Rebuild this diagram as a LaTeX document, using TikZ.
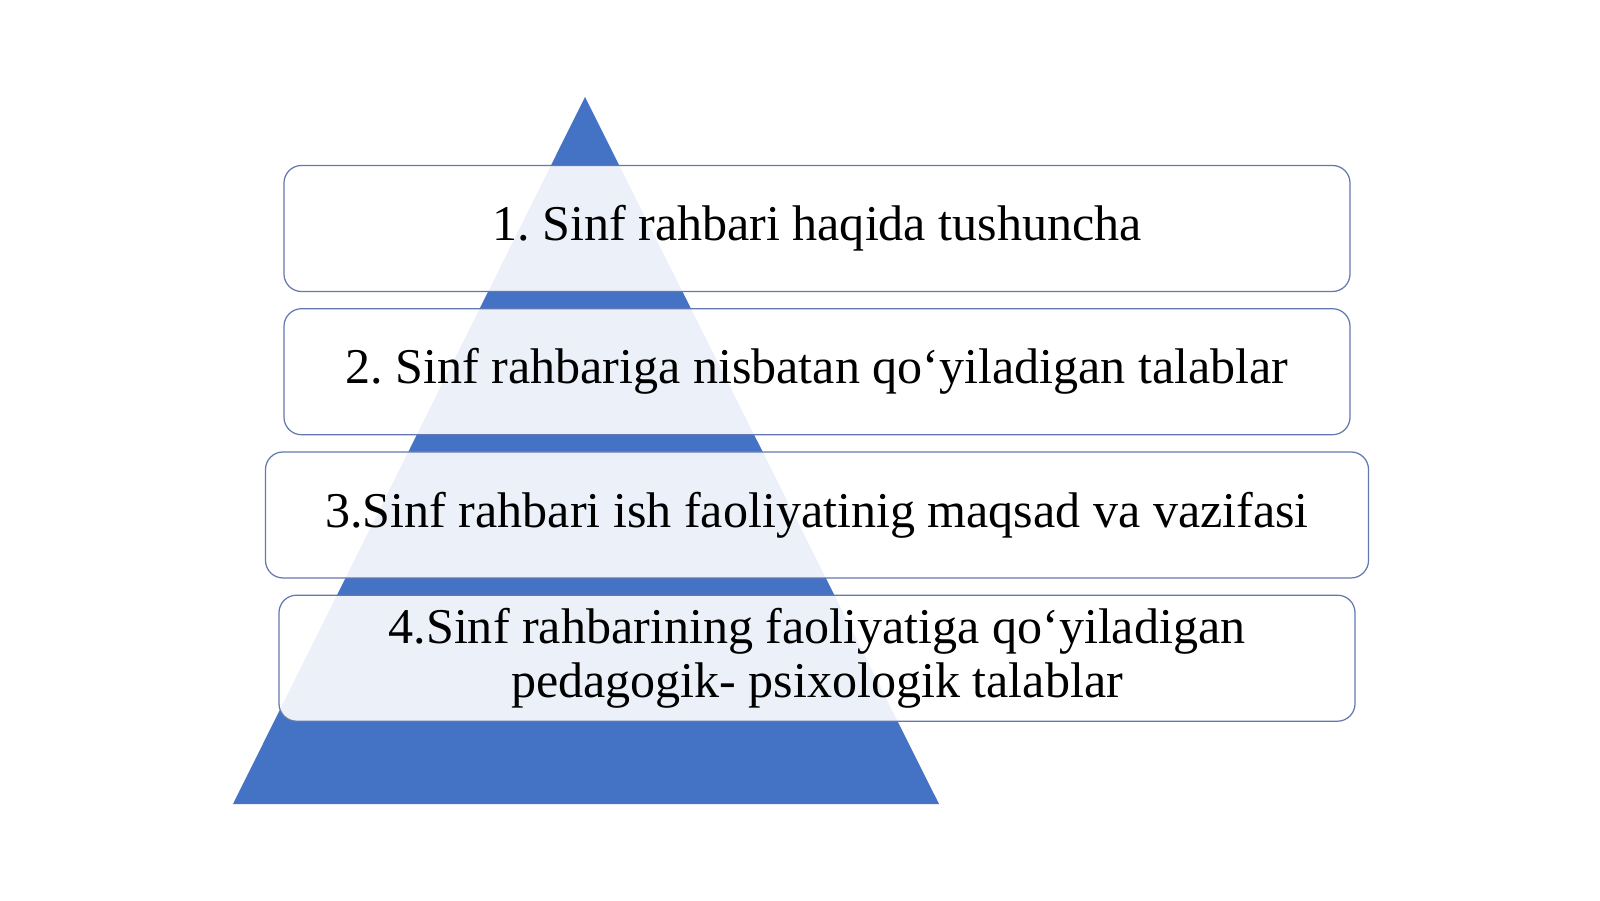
\documentclass[tikz,border=0pt]{standalone}
\usepackage{fontspec}
\setmainfont{Liberation Serif}
\usepackage{tikz}
\usetikzlibrary{positioning}
\definecolor{pyrblue}{HTML}{4472C4}
\definecolor{boxline}{HTML}{6478B0}
\frenchspacing
\tikzset{
  level/.style={draw=boxline, line width=0.7pt, rounded corners=0.35cm,
    fill=white, fill opacity=0.9, text opacity=1, align=center,
    minimum height=2.52cm, inner sep=0pt,
    font=\fontsize{28.5}{31}\selectfont}
}
\begin{document}
\begin{tikzpicture}
\useasboundingbox[fill=white] (0,0) rectangle (32,18);
\fill[pyrblue] (4.66,1.92) -- (11.7,16.06) -- (18.78,1.92) -- cycle;
\node[level, minimum width=21.32cm] (lv1) at (16.34,13.43) {1. Sinf rahbari haqida tushuncha};
\node[level, minimum width=21.32cm, below=0.32cm of lv1] (lv2) {2. Sinf rahbariga nisbatan qo‘yiladigan talablar};
\node[level, minimum width=22.06cm, below=0.32cm of lv2] (lv3) {3.Sinf rahbari ish faoliyatinig maqsad va vazifasi};
\node[level, minimum width=21.52cm, below=0.32cm of lv3] (lv4) {4.Sinf rahbarining faoliyatiga qo‘yiladigan\\pedagogik- psixologik talablar};
\end{tikzpicture}
\end{document}
